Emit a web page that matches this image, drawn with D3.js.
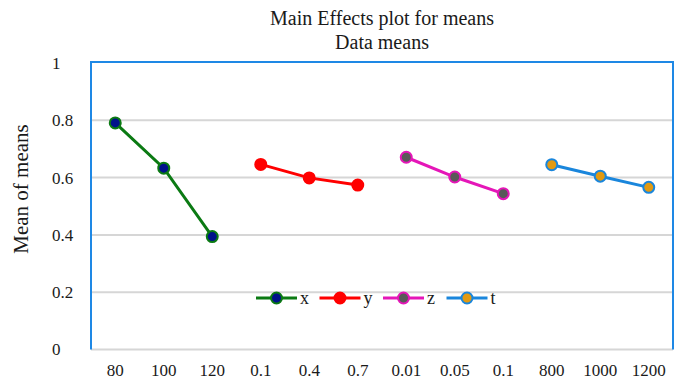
<!DOCTYPE html>
<html>
<head>
<meta charset="utf-8">
<script src="https://cdn.jsdelivr.net/npm/d3@7"></script>
<style>
  body { margin: 0; background: #fff; }
  text { font-family: "Liberation Serif", "Times New Roman", serif; fill: #1a1a1a; }
</style>
</head>
<body>
<div id="chart"></div>
<script>
// factor levels on the x axis, in order
var categories = ["80", "100", "120", "0.1", "0.4", "0.7", "0.01", "0.05", "0.1", "800", "1000", "1200"];
var seriesNames = ["x", "y", "z", "t"];
// mean of means for each factor (3 levels each)
var xMeans = [0.791, 0.633, 0.394];
var yMeans = [0.646, 0.599, 0.574];
var zMeans = [0.671, 0.602, 0.544];
var tMeans = [0.645, 0.605, 0.566];
var yTicks = [0, 0.2, 0.4, 0.6, 0.8, 1];

var lineColors = ["#0b7a13", "#ff0000", "#e516b8", "#1a86dc"];
var dotColors = ["#00118a", "#ff0000", "#595959", "#e29a12"];

function drawChart() {
  var width = 681, height = 381;
  var svg = d3.select("#chart").append("svg")
      .attr("width", width)
      .attr("height", height);

  var plotLeft = 91, plotRight = 673, plotTop = 63, plotBottom = 349.5;

  // one slot per level, keyed by index since "0.1" appears twice
  var x = d3.scaleBand()
      .domain(d3.range(categories.length))
      .range([plotLeft, plotRight]);
  var y = d3.scaleLinear().domain([0, 1]).range([plotBottom, plotTop]);

  // gridlines
  svg.append("g")
     .selectAll("line")
     .data(yTicks.slice(0, -1))
     .enter().append("line")
     .attr("x1", plotLeft).attr("x2", plotRight)
     .attr("y1", function(d) { return y(d); })
     .attr("y2", function(d) { return y(d); })
     .attr("stroke", "#d6d6d6")
     .attr("stroke-width", 2);

  // blue frame on top, left and right
  svg.append("path")
     .attr("d", "M" + plotLeft + "," + plotBottom + "V" + (plotTop - 1) + "H" + plotRight + "V" + plotBottom)
     .attr("fill", "none")
     .attr("stroke", "#1e88e5")
     .attr("stroke-width", 2);

  // y tick labels (left aligned like the original)
  svg.append("g")
     .selectAll("text")
     .data(yTicks)
     .enter().append("text")
     .attr("x", 52)
     .attr("y", function(d) { return y(d); })
     .attr("dy", "0.35em")
     .attr("font-size", 17)
     .text(function(d) { return d; });

  // x tick labels
  svg.append("g")
     .selectAll("text")
     .data(categories)
     .enter().append("text")
     .attr("x", function(d, i) { return x(i) + x.bandwidth() / 2; })
     .attr("y", 370)
     .attr("dy", "0.35em")
     .attr("text-anchor", "middle")
     .attr("font-size", 17)
     .text(function(d) { return d; });

  // titles
  svg.append("text")
     .attr("x", 382).attr("y", 25)
     .attr("text-anchor", "middle")
     .attr("font-size", 20)
     .text("Main Effects plot for means");
  svg.append("text")
     .attr("x", 382).attr("y", 49)
     .attr("text-anchor", "middle")
     .attr("font-size", 20)
     .text("Data means");

  svg.append("text")
     .attr("transform", "translate(21,189) rotate(-90)")
     .attr("text-anchor", "middle")
     .attr("dy", "0.35em")
     .attr("font-size", 21)
     .text("Mean of means");

  // series
  var allMeans = [xMeans, yMeans, zMeans, tMeans];
  var line = d3.line()
      .x(function(d) { return x(d.i) + x.bandwidth() / 2; })
      .y(function(d) { return y(d.v); });

  allMeans.forEach(function(vals, s) {
    var pts = vals.map(function(v, k) { return { i: s * 3 + k, v: v }; });
    var g = svg.append("g");
    g.append("path")
     .attr("d", line(pts))
     .attr("fill", "none")
     .attr("stroke", lineColors[s])
     .attr("stroke-width", 3);
    g.selectAll("circle")
     .data(pts)
     .enter().append("circle")
     .attr("cx", function(d) { return x(d.i) + x.bandwidth() / 2; })
     .attr("cy", function(d) { return y(d.v); })
     .attr("r", 5.5)
     .attr("fill", dotColors[s])
     .attr("stroke", lineColors[s])
     .attr("stroke-width", 2);
  });

  // legend
  var legend = svg.append("g").attr("transform", "translate(256,298)");
  seriesNames.forEach(function(name, s) {
    var item = legend.append("g").attr("transform", "translate(" + (s * 63.5) + ",0)");
    item.append("line")
        .attr("x1", 0).attr("x2", 41)
        .attr("stroke", lineColors[s])
        .attr("stroke-width", 3);
    item.append("circle")
        .attr("cx", 20.5).attr("r", 5.5)
        .attr("fill", dotColors[s])
        .attr("stroke", lineColors[s])
        .attr("stroke-width", 2);
    item.append("text")
        .attr("x", 44).attr("dy", "0.35em")
        .attr("font-size", 18)
        .text(name);
  });
}

drawChart();
</script>
</body>
</html>
